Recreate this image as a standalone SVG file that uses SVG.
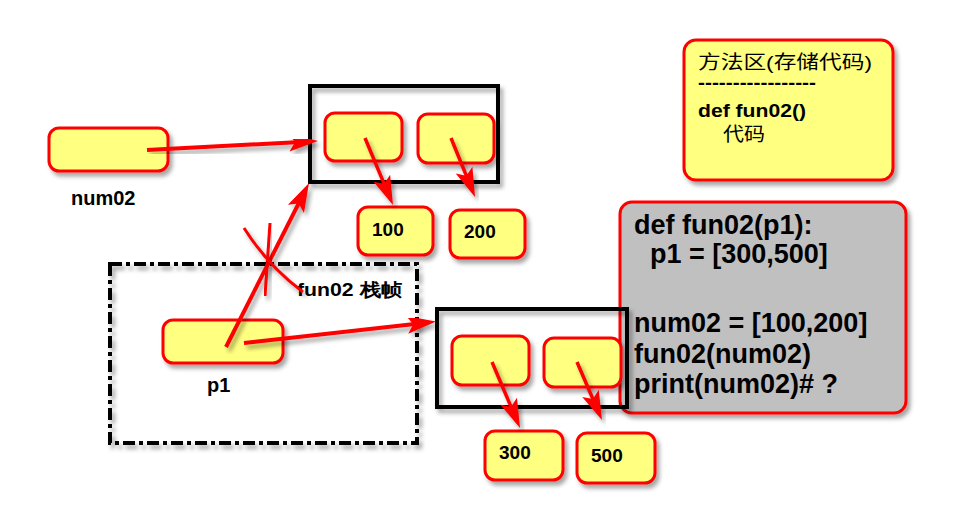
<svg xmlns="http://www.w3.org/2000/svg" width="972" height="516" viewBox="0 0 972 516">
<defs>
<filter id="sh" x="-20%" y="-20%" width="150%" height="160%">
<feDropShadow dx="3" dy="4" stdDeviation="2" flood-color="#000" flood-opacity="0.35"/>
</filter>
<marker id="ah" markerUnits="userSpaceOnUse" markerWidth="32" markerHeight="22" refX="22" refY="11" orient="auto">
<path d="M1,2 L30,11 L1,20 L7,11 Z" fill="#ff0000"/>
</marker>
</defs>
<style>
.cell{fill:#ffff80;stroke:#ff0000;stroke-width:3;filter:url(#sh)}
.box{fill:none;stroke:#000;stroke-width:4;filter:url(#sh)}
.lbl{font-family:"Liberation Sans",Arial,sans-serif;font-weight:bold;fill:#000}
.val{font-family:"Liberation Sans",Arial,sans-serif;font-weight:bold;font-size:19px;fill:#000}
.code{font-family:"Liberation Sans",Arial,sans-serif;font-weight:bold;font-size:27px;fill:#000}
.meth{font-family:"Liberation Sans","Noto Sans CJK SC",sans-serif;font-size:19px;fill:#000}
.arr{stroke:#ff0000;stroke-width:4;fill:none;marker-end:url(#ah);filter:url(#sh)}
.arrs{stroke:#ff0000;stroke-width:3.5;fill:none;marker-end:url(#ah);filter:url(#sh)}
.cross{stroke:#ff0000;stroke-width:3;fill:none;filter:url(#sh)}
</style>
<rect width="972" height="516" fill="#fff"/>

<g id="num02">
<rect class="cell" x="49" y="128" width="119" height="43" rx="10"/>
<text class="lbl" x="71" y="205" font-size="20">num02</text>
</g>
<g id="list1">
<rect class="box" x="310" y="86" width="188" height="96"/>
<rect class="cell" x="325" y="113" width="77" height="48" rx="10"/>
<rect class="cell" x="418" y="114" width="76" height="49" rx="10"/>
</g>
<g id="v100">
<rect class="cell" x="358" y="207" width="75" height="48" rx="10"/>
<text class="val" x="372" y="236">100</text>
</g>
<g id="v200">
<rect class="cell" x="450" y="210" width="75" height="48" rx="10"/>
<text class="val" x="464" y="238">200</text>
</g>
<g id="frame">
<rect x="110" y="264" width="307" height="179" fill="none" stroke="#000" stroke-width="4" stroke-dasharray="12 4 4 4" filter="url(#sh)"/>
<text class="lbl" x="297" y="296" font-size="18" textLength="105" lengthAdjust="spacingAndGlyphs" font-family="'Liberation Sans','Noto Sans CJK SC',sans-serif">fun02 栈帧</text>
</g>
<g id="p1">
<rect class="cell" x="163" y="320" width="120" height="43" rx="10"/>
<text class="lbl" x="207" y="392" font-size="20">p1</text>
</g>
<g id="method">
<rect class="cell" x="684" y="40" width="209" height="140" rx="12"/>
<text class="meth" x="698" y="69" textLength="174" lengthAdjust="spacingAndGlyphs">方法区(存储代码)</text>
<text class="meth" x="698" y="89" font-weight="bold" textLength="118" lengthAdjust="spacingAndGlyphs">-----------------</text>
<text class="meth" x="698" y="117" font-size="20" font-weight="bold" textLength="108" lengthAdjust="spacingAndGlyphs">def fun02()</text>
<text class="meth" x="723" y="141" textLength="42" lengthAdjust="spacingAndGlyphs">代码</text>
</g>
<g id="code">
<rect x="620" y="202" width="286" height="211" rx="12" fill="#c0c0c0" stroke="#ff0000" stroke-width="3" filter="url(#sh)"/>
<text class="code" x="634" y="234">def fun02(p1):</text>
<text class="code" x="650" y="263">p1 = [300,500]</text>
<text class="code" x="634" y="332">num02 = [100,200]</text>
<text class="code" x="634" y="363">fun02(num02)</text>
<text class="code" x="634" y="393">print(num02)# ?</text>
</g>
<g id="list2">
<rect class="box" x="437" y="309" width="190" height="98"/>
<rect class="cell" x="452" y="336" width="77" height="49" rx="10"/>
<rect class="cell" x="544" y="338" width="77" height="49" rx="10"/>
</g>
<g id="v300">
<rect class="cell" x="485" y="431" width="78" height="49" rx="10"/>
<text class="val" x="499" y="459">300</text>
</g>
<g id="v500">
<rect class="cell" x="577" y="433" width="78" height="50" rx="10"/>
<text class="val" x="591" y="462">500</text>
</g>

<g id="connectors">
<path class="arr" d="M147,150 L310,141.4"/>
<path class="arrs" d="M365,138 L389.9,197.6"/>
<path class="arrs" d="M451,138 L472,189.6"/>
<path class="arr" d="M226,347 L305.4,190.1"/>
<path class="arr" d="M244,343 L428.1,322.5"/>
<path class="arrs" d="M492,362 L516.9,420.6"/>
<path class="arrs" d="M577,362 L598.8,412.7"/>
<path class="cross" d="M270,223 L265,296"/>
<path class="cross" d="M244,228 Q268,266 303,292"/>
</g>
</svg>
